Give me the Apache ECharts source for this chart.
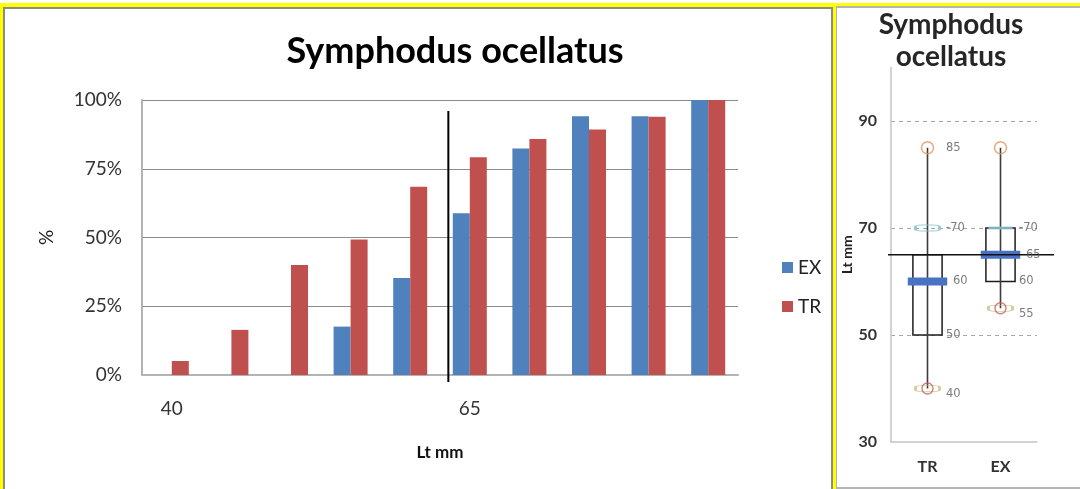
<!DOCTYPE html>
<html>
<head>
<meta charset="utf-8">
<script src="https://cdn.jsdelivr.net/npm/echarts@6/dist/echarts.min.js"></script>
<style>
html,body{margin:0;padding:0;background:#fff;width:1080px;height:489px;overflow:hidden;}
#leftPanel{position:absolute;left:0;top:3px;width:836px;height:540px;box-sizing:border-box;border:3px solid #ffff00;border-top-width:4px;box-shadow:inset 0 0 0 2px #8c8c8c;}
#rightPanel{position:absolute;left:834px;top:3px;width:260px;height:486px;box-sizing:border-box;border-left:2px solid #ffff00;border-top:3px solid #ffff00;}
#rightInner{position:absolute;left:0;top:0;right:0;bottom:0;border-left:1px solid #b4b4b4;border-top:2px solid #b4b4b4;border-bottom:2px solid #b4b4b4;}
#chart{position:absolute;left:0;top:0;width:1080px;height:489px;}
</style>
</head>
<body>
<div id="leftPanel"></div>
<div id="rightPanel"><div id="rightInner"></div></div>
<div id="chart"></div>
<script>
// ---------- data ----------
const lengthCats = ['40', '45', '50', '55', '60', '65', '70', '75', '80', '85'];
const exPct = [0, 0, 0, 17.6, 35.3, 58.8, 82.4, 94.1, 94.1, 100];
const trPct = [5.1, 16.4, 40, 49.3, 68.5, 79.2, 85.8, 89.3, 93.9, 100];
const pctTicks = [0, 25, 50, 75, 100];
const cutoffLen = 63.2;            // Lt mm position of the vertical black line
const cutoffPctRange = [-2.5, 96];  // vertical extent of that line, %

const boxCats = ['TR', 'EX'];
const trBox = [40, 50, 60, 65, 85];  // min, q1, median, q3, max
const exBox = [55, 60, 65, 70, 85];
const cyanMarks = [70, 70];          // TR, EX
const refLen = 65;                   // horizontal reference line
const trLabels = [85, 70, 60, 50, 40];
const exLabels = [70, 65, 60, 55];
const boxTicks = [30, 50, 70, 90];

// ---------- build ----------
const boxes = [trBox, exBox];
const FONT = 'Lato';

function renderBox(params, api) {
  const i = api.value(0);
  const cx = api.coord([i, api.value(3)])[0];
  const y = k => api.coord([i, api.value(k)])[1];
  const yMin = y(1), yQ1 = y(2), yMed = y(3), yQ3 = y(4), yMax = y(5);
  const band = api.size([1, 0])[0];
  const bw = band * 0.4, mw = band * 0.54;
  return {
    type: 'group',
    children: [
      { type: 'rect', shape: { x: cx - bw / 2, y: yQ3, width: bw, height: yQ1 - yQ3 },
        style: { fill: '#fff', stroke: '#1e1e1e', lineWidth: 1.5 } },
      { type: 'line', shape: { x1: cx, y1: yMax, x2: cx, y2: yMin },
        style: { stroke: '#3c3c3c', lineWidth: 1.6 } },
      { type: 'rect', shape: { x: cx - mw / 2, y: yMed - 4, width: mw, height: 8 },
        style: { fill: '#4a72c4' } }
    ]
  };
}

function renderRef(params, api) {
  const cs = params.coordSys;
  const yy = api.coord([0, api.value(0)])[1];
  return { type: 'line', shape: { x1: cs.x - 3, y1: yy, x2: cs.x + cs.width + 17, y2: yy },
    style: { stroke: '#111', lineWidth: 1.3 } };
}

const labelPoints = [];
[trLabels, exLabels].forEach((arr, i) => {
  arr.forEach(v => {
    const b = boxes[i];
    const isMed = v === b[2];
    const isMin = v === b[0];
    labelPoints.push({
      value: [i, v],
      label: {
        formatter: (v === cyanMarks[i] ? '-' : '') + v,
        offset: [isMed ? 7 : 0, isMin ? 6 : 0]
      }
    });
  });
});

const option = {
  animation: false,
  backgroundColor: 'transparent',
  textStyle: { fontFamily: FONT },
  title: [
    { text: 'Symphodus ocellatus', left: 450, top: 28, textAlign: 'center',
      textStyle: { fontFamily: FONT, fontWeight: 'bold', fontSize: 36, color: '#000' } },
    { text: 'Symphodus\nocellatus', left: 946, top: 4, textAlign: 'center',
      textStyle: { fontFamily: FONT, fontWeight: 'bold', fontSize: 28, lineHeight: 32, color: '#262626' } }
  ],
  legend: {
    data: ['EX', 'TR'], orient: 'vertical', left: 777, top: 253,
    itemWidth: 11, itemHeight: 11, itemGap: 20, icon: 'rect',
    textStyle: { fontFamily: FONT, fontSize: 19, color: '#222' }
  },
  grid: [
    { left: 142, right: 342, top: 100, bottom: 114 },
    { left: 891, right: 43, top: 67.5, bottom: 47 }
  ],
  xAxis: [
    { type: 'category', gridIndex: 0, data: lengthCats,
      axisTick: { show: false },
      axisLine: { lineStyle: { color: '#b3b3b3', width: 2 } },
      axisLabel: { interval: 4, fontSize: 19, color: '#333', margin: 24, fontFamily: FONT },
      name: 'Lt mm', nameLocation: 'middle', nameGap: 69,
      nameTextStyle: { fontFamily: FONT, fontWeight: 'bold', fontSize: 17, color: '#111' } },
    { type: 'value', gridIndex: 0, show: false,
      min: 40 - 2.5, max: 85 + 2.5 },
    { type: 'category', gridIndex: 1, data: boxCats,
      axisTick: { show: false },
      axisLine: { lineStyle: { color: '#c4c4c4', width: 1.5 } },
      axisLabel: { fontSize: 16, fontWeight: 'bold', color: '#333', margin: 17, fontFamily: FONT } }
  ],
  yAxis: [
    { type: 'value', gridIndex: 0, min: pctTicks[0], max: pctTicks[pctTicks.length - 1], interval: 25,
      axisLabel: { formatter: '{value}%', fontSize: 19, color: '#333', margin: 20, fontFamily: FONT },
      axisLine: { show: true, lineStyle: { color: '#b3b3b3', width: 2 } },
      axisTick: { show: false },
      splitLine: { lineStyle: { color: '#8c8c8c', width: 1 } },
      name: '%', nameLocation: 'middle', nameGap: 86,
      nameTextStyle: { fontFamily: FONT, fontSize: 19, color: '#222' } },
    { type: 'value', gridIndex: 1, min: boxTicks[0], max: 100, interval: 20,
      axisLabel: { formatter: v => (boxTicks.indexOf(v) >= 0 ? String(v) : ''),
        fontSize: 16, fontWeight: 'bold', color: '#333', margin: 14, fontFamily: FONT },
      axisLine: { show: true, lineStyle: { color: '#c4c4c4', width: 1.5 } },
      axisTick: { show: false },
      splitLine: { show: true, showMinLine: false, showMaxLine: false,
        lineStyle: { color: '#a8a8a8', type: [4, 4], width: 1 } },
      name: 'Lt mm', nameLocation: 'middle', nameGap: 33,
      nameTextStyle: { fontFamily: FONT, fontWeight: 'bold', fontSize: 14, color: '#222' } }
  ],
  series: [
    { name: 'EX', type: 'bar', xAxisIndex: 0, yAxisIndex: 0, data: exPct,
      barWidth: 17, barGap: '0%', itemStyle: { color: '#4f81bd' } },
    { name: 'TR', type: 'bar', xAxisIndex: 0, yAxisIndex: 0, data: trPct,
      barWidth: 17, barGap: '0%', itemStyle: { color: '#c0504d' } },
    { name: 'cutoff', type: 'line', xAxisIndex: 1, yAxisIndex: 0, clip: false,
      data: cutoffPctRange.map(p => [cutoffLen, p]), symbol: 'none',
      lineStyle: { color: '#000', width: 2 }, z: 5 },
    // boxplot panel
    { name: 'box', type: 'custom', xAxisIndex: 2, yAxisIndex: 1,
      data: boxes.map((b, i) => [i].concat(b)),
      encode: { x: 0, y: [1, 2, 3, 4, 5] },
      renderItem: renderBox, z: 2 },
    { name: 'ref', type: 'custom', xAxisIndex: 2, yAxisIndex: 1, clip: false,
      data: [[refLen]], encode: { y: 0 },
      renderItem: renderRef, z: 6 },
    { name: 'maxMark', type: 'scatter', xAxisIndex: 2, yAxisIndex: 1,
      data: boxes.map((b, i) => [i, b[4]]),
      symbol: 'circle', symbolSize: 12,
      itemStyle: { color: 'rgba(255,255,255,0)', borderColor: '#e3935c', borderWidth: 1.5 }, z: 7 },
    { name: 'cyanMark', type: 'scatter', xAxisIndex: 2, yAxisIndex: 1,
      data: [
        { value: [0, cyanMarks[0]], symbol: 'roundRect', symbolSize: [24, 6],
          itemStyle: { color: 'rgba(255,255,255,0)', borderColor: '#86c3cf', borderWidth: 1.6 } },
        { value: [1, cyanMarks[1]], symbol: 'rect', symbolSize: [24, 3],
          itemStyle: { color: '#8fcbd6' } }
      ], z: 7 },
    { name: 'minPill', type: 'scatter', xAxisIndex: 2, yAxisIndex: 1,
      data: boxes.map((b, i) => [i, b[0]]),
      symbol: 'roundRect', symbolSize: [24, 6],
      itemStyle: { color: 'rgba(255,255,255,0)', borderColor: '#c8c08a', borderWidth: 1.5 }, z: 7 },
    { name: 'minCircle', type: 'scatter', xAxisIndex: 2, yAxisIndex: 1,
      data: boxes.map((b, i) => [i, b[0]]),
      symbol: 'circle', symbolSize: 11,
      itemStyle: { color: 'rgba(255,255,255,0)', borderColor: '#c9605a', borderWidth: 1.4 }, z: 8 },
    { name: 'labels', type: 'scatter', xAxisIndex: 2, yAxisIndex: 1,
      data: labelPoints, symbolSize: 1, itemStyle: { color: 'rgba(0,0,0,0)' },
      label: { show: true, position: 'right', distance: 18,
        fontFamily: 'DejaVu Sans', fontSize: 11.5, color: '#5a5a5a' }, z: 9 }
  ]
};

const chart = echarts.init(document.getElementById('chart'), null, { renderer: 'canvas' });
chart.setOption(option);
</script>
</body>
</html>
